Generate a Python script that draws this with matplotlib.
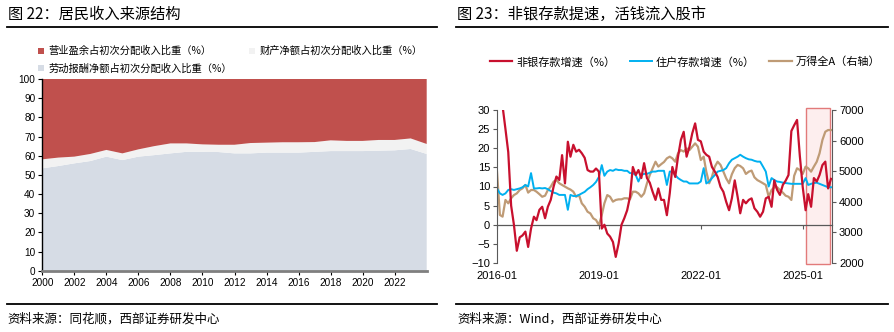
import numpy as np
import pandas as pd
import matplotlib
matplotlib.use("Agg")
import matplotlib.pyplot as plt
from matplotlib.lines import Line2D
from matplotlib.patches import Patch

plt.rcParams['font.family'] = ['Noto Sans CJK SC', 'DejaVu Sans']
NUMFONT = ['Liberation Sans', 'DejaVu Sans']

# ---------------- Left chart data ----------------
years = list(range(2000, 2025))
labor = [53.4, 54.6, 56.0, 57.2, 59.5, 57.7, 59.5, 60.3, 61.2, 62.0, 62.0, 61.9, 61.2,
         61.2, 61.6, 61.6, 61.6, 62.0, 62.4, 62.4, 62.4, 62.6, 62.8, 63.5, 60.9]
prop = [4.7, 4.4, 3.5, 3.7, 3.5, 3.5, 3.8, 4.7, 5.2, 4.4, 3.9, 3.8, 4.5,
        5.4, 5.2, 5.4, 5.4, 5.1, 5.6, 5.3, 5.3, 5.6, 5.4, 5.5, 5.2]
surplus = [41.9, 41.0, 40.5, 39.1, 37.0, 38.8, 36.7, 35.0, 33.6, 33.6, 34.1, 34.3, 34.3,
           33.4, 33.2, 33.0, 33.0, 32.9, 32.0, 32.3, 32.3, 31.8, 31.8, 31.0, 33.9]
left_labels = ['营业盈余占初次分配收入比重（%）', '财产净额占初次分配收入比重（%）',
               '劳动报酬净额占初次分配收入比重（%）']
left_xticks = list(range(2000, 2023, 2))

# ---------------- Right chart data (monthly, 2016-01 .. 2025-11) ----------------
nonbank = [45, 38, 31, 25, 19, 5, 0, -6.8, -3.3, -2.8, -1.8, -5.8, -1, 2.1, 1.2, 3.9, 4.7, 1.7,
           4.7, 6.5, 10, 12.6, 11.7, 18.2, 10.8, 21.7, 17.8, 20.9, 19.1, 19.6, 18.7, 17.5, 14.3,
           13.9, 13.9, 14.7, 13.9, -1, 0, -2.3, -3.1, -4.5, -8.4, -4.9, 0, 1.7, 3.8, 7.3, 15.1,
           13, 14.3, 12.2, 16.1, 12.2, 11, 8.6, 6.5, 9.5, 6.5, 6.5, 2.5, 8.2, 15.1, 12.5, 17.8,
           22.2, 24.3, 17.8, 20.4, 23.9, 26.5, 22.2, 21.8, 19.1, 18.3, 17.8, 15.1, 13.9, 12.5,
           9.9, 8.6, 6.0, 3.8, 6.9, 11.6, 7.3, 3.0, 6.5, 5.6, 6.5, 6.9, 4.3, 3.4, 2.1, 3.4, 6.9,
           7.3, 4.7, 11.6, 9.1, 7.8, 10.4, 11.5, 13, 24.5, 26, 27.4, 18, 9.9, 3.8, 8, 4.7, 12.2,
           11.3, 13, 15.6, 16.5, 9.5, 12]
household = [9.5, 8.2, 7.8, 8.2, 9.1, 9.3, 9.1, 9.3, 9.5, 9.8, 10.4, 10, 13.5, 9.5, 9.5, 9.6,
             9.5, 9.6, 9.3, 8.8, 8.4, 8.2, 7.8, 7.8, 7.8, 3.9, 7.8, 7.5, 7.5, 7.8, 8.2, 8.6, 9.3,
             9.8, 10.4, 11.2, 12.5, 15.6, 12.8, 13.9, 14.3, 14.1, 14.5, 14.3, 14.3, 14.1, 14.1,
             13.5, 13.5, 13, 11.3, 13, 13.3, 13.3, 13.6, 13.9, 13.9, 14.1, 14.1, 14.1, 10.4, 13.9,
             13.9, 13, 12.2, 11.7, 11.3, 11.3, 10.8, 10.8, 10.8, 10.8, 11.3, 14.8, 10.8, 11.3,
             12.2, 13, 13.9, 14.1, 14.3, 14.8, 16.1, 17, 17.4, 17.8, 18.3, 17.8, 17.4, 17.1, 17,
             16.7, 16.5, 16.5, 15.2, 13.9, 10, 12.2, 11.7, 11.3, 11.2, 11, 10.9, 10.8, 10.7, 10.7,
             10.7, 10.7, 10.7, 12.2, 10.4, 10.7, 10.9, 11, 10.7, 10.4, 10.1, 9.8, 9.8]
wind_a = [4985, 3570, 3515, 4060, 3950, 4115, 4220, 4275, 4385, 4440, 4550, 4300, 4385, 4385,
          4330, 4250, 4165, 4200, 4385, 4495, 4660, 4710, 4605, 4550, 4495, 4440, 4400, 4330,
          4165, 4220, 3950, 3840, 3675, 3620, 3460, 3405, 3240, 3570, 3950, 4220, 4165, 4005,
          4060, 4080, 4080, 4115, 4115, 4080, 4330, 4330, 4275, 4165, 4275, 4605, 4875, 5095,
          5310, 5150, 5230, 5300, 5420, 5475, 5420, 5310, 5585, 5690, 5640, 5745, 5690, 5800,
          5910, 5800, 5365, 5475, 4985, 4605, 4820, 5150, 5310, 5205, 4985, 4765, 4605, 4900,
          5100, 5205, 5170, 5095, 4910, 4985, 5020, 4800, 4710, 4660, 4605, 4550, 4165, 4385,
          4475, 4475, 4385, 4300, 4200, 4165, 4060, 4850, 5095, 5040, 4910, 5150, 5095, 4985,
          5150, 5310, 5585, 6020, 6290, 6345, 6345]
dates = pd.date_range('2016-01-01', periods=len(wind_a), freq='MS')
right_labels = ['非银存款增速（%）', '住户存款增速（%）', '万得全A（右轴）']
right_xticks = pd.to_datetime(['2016-01-01', '2019-01-01', '2022-01-01', '2025-01-01'])
right_xticklabels = ['2016-01', '2019-01', '2022-01', '2025-01']
shade_start, shade_end = pd.Timestamp('2025-02-01'), pd.Timestamp('2025-10-22')

W, H = 895, 332
fig = plt.figure(figsize=(W / 100, H / 100), dpi=100)


def fx(px):
    return px / W


def fy(py):
    return 1 - py / H


# ---------------- Titles, rules, sources ----------------
fig.text(fx(8), fy(14), '图 22：居民收入来源结构', fontsize=11, va='center', ha='left')
fig.text(fx(457), fy(14), '图 23：非银存款提速，活钱流入股市', fontsize=11, va='center', ha='left')
for (a, b) in [(7, 437), (456, 888)]:
    fig.add_artist(Line2D([fx(a), fx(b)], [fy(27), fy(27)], color='black', lw=1.3))
    fig.add_artist(Line2D([fx(a), fx(b)], [fy(303.5), fy(303.5)], color='black', lw=1.3))
fig.text(fx(7), fy(319), '资料来源：同花顺，西部证券研发中心', fontsize=9, va='center', ha='left')
fig.text(fx(457), fy(319), '资料来源：Wind，西部证券研发中心', fontsize=9, va='center', ha='left')

# ---------------- Left chart ----------------
c_surplus, c_prop, c_labor = '#C0504D', '#F2F2F2', '#D6DCE5'
ax1 = fig.add_axes([fx(42.3), fy(270.7), fx(426.7) - fx(42.3), fy(79) - fy(270.7)])
ax1.stackplot(years, labor, prop, surplus, colors=[c_labor, c_prop, c_surplus], linewidth=0)
ax1.set_xlim(2000, 2024)
ax1.set_ylim(0, 100)
ax1.set_yticks(range(0, 101, 10))
ax1.set_xticks(left_xticks)
for s in ['top', 'right']:
    ax1.spines[s].set_visible(False)
ax1.spines['left'].set_color('black')
ax1.spines['left'].set_linewidth(1.0)
ax1.spines['bottom'].set_color('#7F7F7F')
ax1.spines['bottom'].set_linewidth(2.0)
ax1.tick_params(axis='both', direction='out', length=3, width=0.8, labelsize=7.2, pad=2)
for lab in ax1.get_xticklabels() + ax1.get_yticklabels():
    lab.set_family(NUMFONT)

h_s = Patch(facecolor=c_surplus, edgecolor='none')
h_p = Patch(facecolor=c_prop, edgecolor='none')
h_l = Patch(facecolor=c_labor, edgecolor='none')
fig.legend([h_s, h_l, h_p], [left_labels[0], left_labels[2], left_labels[1]],
           ncol=2, loc='upper left', bbox_to_anchor=(fx(38), fy(46)),
           frameon=False, fontsize=7.4, handlelength=0.55, handleheight=0.55,
           handletextpad=0.5, columnspacing=1.6, labelspacing=0.7,
           borderpad=0, borderaxespad=0)

# ---------------- Right chart ----------------
c_red, c_blue, c_tan = '#C8102E', '#00B0F0', '#BF9B76'
ax2 = fig.add_axes([fx(497), fy(263), fx(832) - fx(497), fy(110) - fy(263)])
ax3 = ax2.twinx()
ax2.set_zorder(ax3.get_zorder() + 1)
ax2.patch.set_visible(False)

ax3.axvspan(shade_start, shade_end, ymin=-0.008, ymax=1.012, facecolor='#FDEEEE',
            edgecolor='#E27A7A', lw=1.0, zorder=0, clip_on=False)
l3, = ax3.plot(dates, wind_a, color=c_tan, lw=1.6, zorder=2)
l1, = ax2.plot(dates, nonbank, color=c_red, lw=1.6, zorder=3)
l2, = ax2.plot(dates, household, color=c_blue, lw=1.4, zorder=2)

xlim = (pd.Timestamp('2016-01-01'), pd.Timestamp('2025-11-12'))
ax2.set_xlim(xlim)
ax2.set_ylim(-10, 30)
ax2.set_yticks(range(-10, 31, 5))
ax3.set_ylim(2000, 7000)
ax3.set_yticks(range(2000, 7001, 1000))

ax2.set_xticks(right_xticks)
ax2.set_xticklabels(right_xticklabels)
ax2.tick_params(axis='x', length=0, pad=6, labelsize=8)
ax2.tick_params(axis='y', direction='out', length=3, width=0.8, labelsize=8, pad=2, color='#595959')
ax3.tick_params(axis='y', direction='out', length=3, width=0.8, labelsize=8, pad=2, color='#595959')
for a in (ax2, ax3):
    for s in ['top', 'bottom']:
        a.spines[s].set_visible(False)
ax3.spines['left'].set_visible(False)
ax2.spines['right'].set_visible(False)
ax2.spines['left'].set_color('#595959')
ax3.spines['right'].set_color('#595959')
ax2.spines['left'].set_linewidth(0.8)
ax3.spines['right'].set_linewidth(0.8)

# zero line with date ticks
sec = ax2.secondary_xaxis(10 / 40)
sec.set_xticks(right_xticks)
sec.tick_params(axis='x', direction='out', length=3, width=0.8, labelbottom=False, color='#595959')
sec.spines['bottom'].set_color('#595959')
sec.spines['bottom'].set_linewidth(0.9)

for lab in ax2.get_xticklabels() + ax2.get_yticklabels() + ax3.get_yticklabels():
    lab.set_family(NUMFONT)

fig.legend([l1, l2, l3], right_labels, ncol=3, loc='center left',
           bbox_to_anchor=(fx(490), fy(62)), frameon=False, fontsize=8,
           handlelength=2.0, handletextpad=0.35, columnspacing=1.3,
           borderpad=0, borderaxespad=0)

fig.savefig('out.png', dpi=100)
